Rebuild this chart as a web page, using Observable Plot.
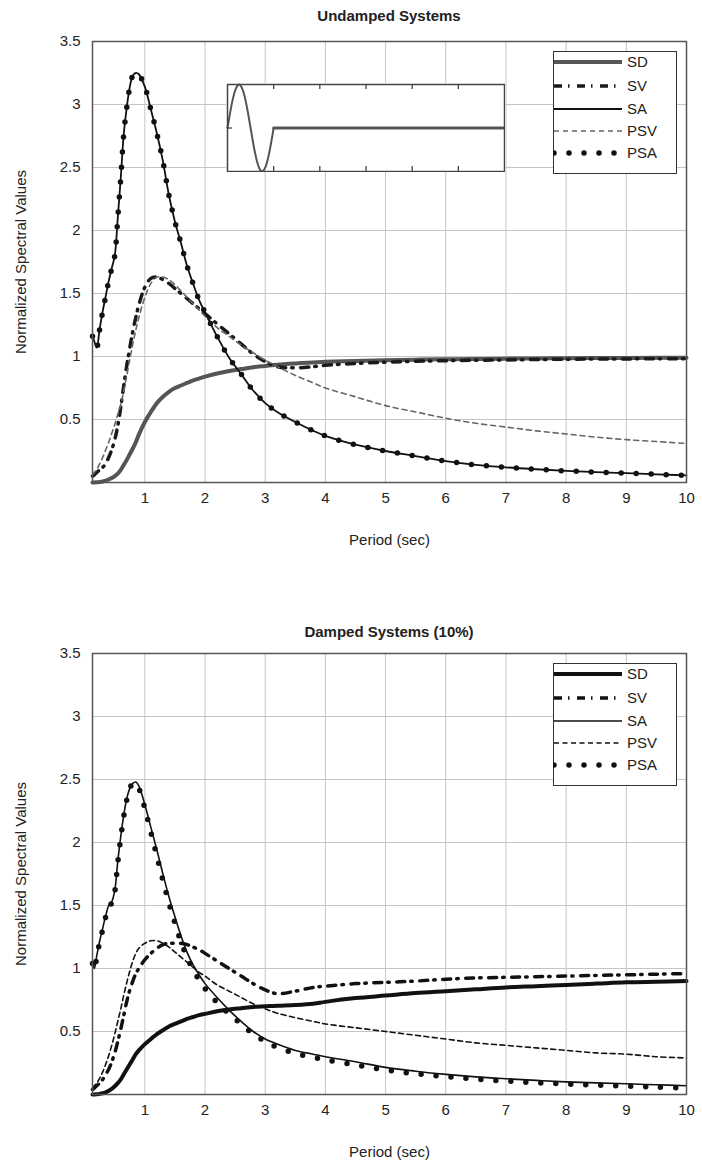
<!DOCTYPE html>
<html>
<head>
<meta charset="utf-8">
<script src="https://cdn.jsdelivr.net/npm/d3@7"></script>
<script src="https://cdn.jsdelivr.net/npm/@observablehq/plot@0.6"></script>
<style>
  body { margin: 0; background: #fff; }
  #root { position: relative; width: 702px; height: 1164px; background: #fff; font-family: "Liberation Sans", Arial, sans-serif; }
  .title { position: absolute; left: 92px; width: 594px; text-align: center; font-size: 15px; font-weight: bold; color: #222; line-height: 18px; }
  .abs { position: absolute; }
</style>
</head>
<body>
<div id="root"></div>
<script>
// ---------- data ----------
const seriesNames = ["SD", "SV", "SA", "PSV", "PSA"];
const panelTitles = ["Undamped Systems", "Damped Systems (10%)"];
const xTicks = [1, 2, 3, 4, 5, 6, 7, 8, 9, 10];
const xGrid = [1, 2, 3, 4, 5, 6, 7, 8, 9];
const yTicks = [0.5, 1, 1.5, 2, 2.5, 3, 3.5];
const yGrid = [0.5, 1, 1.5, 2, 2.5, 3];

const periods = [0.13,0.16,0.2,0.25,0.3,0.35,0.4,0.45,0.5,0.55,0.6,0.65,0.7,0.75,0.8,0.85,0.9,
  1.0,1.1,1.2,1.3,1.4,1.5,1.6,1.7,1.8,1.9,2.0,2.2,2.4,2.6,2.8,3.0,3.2,3.5,3.8,4.0,4.5,
  5,5.5,6,6.5,7,7.5,8,8.5,9,9.5,10];

// Undamped
const undampedSD = [0,0,0.002,0.004,0.008,0.015,0.025,0.035,0.05,0.07,0.10,0.14,0.18,0.225,0.27,0.32,0.38,
  0.48,0.56,0.63,0.68,0.72,0.75,0.77,0.79,0.81,0.825,0.84,0.865,0.885,0.90,0.915,0.925,0.935,0.945,0.953,0.958,0.965,
  0.97,0.975,0.978,0.98,0.983,0.985,0.987,0.988,0.989,0.99,0.99];
const undampedSV = [0.05,0.06,0.08,0.1,0.12,0.15,0.2,0.26,0.34,0.45,0.6,0.77,0.93,1.07,1.2,1.31,1.41,
  1.55,1.62,1.63,1.61,1.58,1.54,1.50,1.46,1.42,1.38,1.34,1.26,1.18,1.10,1.02,0.96,0.92,0.91,0.92,0.93,0.945,
  0.955,0.962,0.967,0.97,0.973,0.976,0.978,0.98,0.981,0.982,0.983];
const undampedSA = [1.16,1.12,1.07,1.22,1.36,1.48,1.60,1.70,1.80,2.10,2.42,2.77,2.98,3.14,3.23,3.25,3.24,
  3.14,2.96,2.77,2.55,2.28,2.07,1.90,1.72,1.58,1.45,1.35,1.16,0.99,0.86,0.73,0.63,0.56,0.48,0.41,0.37,0.30,
  0.25,0.21,0.17,0.14,0.12,0.105,0.092,0.082,0.074,0.065,0.057];
const undampedPSV = [0.06,0.08,0.1,0.15,0.2,0.26,0.32,0.39,0.46,0.54,0.62,0.73,0.85,0.98,1.1,1.21,1.31,
  1.47,1.58,1.63,1.63,1.61,1.57,1.52,1.47,1.42,1.37,1.32,1.23,1.16,1.09,1.03,0.97,0.92,0.85,0.79,0.75,0.68,
  0.61,0.56,0.51,0.47,0.44,0.41,0.385,0.36,0.34,0.325,0.31];
const undampedPSA = [1.16,1.12,1.07,1.22,1.36,1.48,1.60,1.70,1.80,2.10,2.42,2.77,2.98,3.14,3.23,3.25,3.24,
  3.14,2.96,2.77,2.55,2.28,2.07,1.90,1.72,1.58,1.45,1.35,1.16,0.99,0.86,0.73,0.63,0.56,0.48,0.41,0.37,0.30,
  0.25,0.21,0.17,0.14,0.12,0.105,0.092,0.082,0.074,0.065,0.057];

// Damped (10%)
const dampedSD = [0,0,0.002,0.005,0.01,0.018,0.03,0.045,0.065,0.09,0.12,0.16,0.2,0.24,0.28,0.32,0.35,
  0.40,0.44,0.48,0.51,0.54,0.56,0.58,0.60,0.615,0.63,0.64,0.66,0.675,0.685,0.695,0.70,0.705,0.71,0.72,0.735,0.765,
  0.785,0.805,0.82,0.835,0.85,0.86,0.87,0.88,0.89,0.895,0.90];
const dampedSV = [0.04,0.05,0.07,0.09,0.12,0.16,0.2,0.26,0.33,0.42,0.52,0.63,0.74,0.83,0.9,0.96,1.0,
  1.07,1.12,1.16,1.19,1.2,1.2,1.2,1.19,1.17,1.15,1.12,1.06,1.0,0.94,0.88,0.83,0.80,0.82,0.85,0.86,0.88,
  0.89,0.9,0.915,0.925,0.93,0.935,0.94,0.945,0.95,0.955,0.96];
const dampedSA = [1.05,1.0,1.1,1.22,1.32,1.42,1.5,1.53,1.62,1.85,2.05,2.22,2.35,2.43,2.47,2.48,2.45,
  2.3,2.12,1.94,1.75,1.57,1.41,1.26,1.13,1.03,0.95,0.88,0.77,0.67,0.58,0.5,0.44,0.40,0.35,0.32,0.30,0.26,
  0.215,0.185,0.16,0.14,0.125,0.112,0.1,0.092,0.085,0.077,0.07];
const dampedPSV = [0.05,0.07,0.09,0.13,0.18,0.24,0.31,0.39,0.48,0.58,0.68,0.79,0.89,0.98,1.06,1.12,1.16,
  1.2,1.22,1.22,1.2,1.17,1.13,1.09,1.05,1.01,0.97,0.94,0.87,0.82,0.77,0.72,0.68,0.645,0.61,0.58,0.56,0.53,
  0.50,0.47,0.44,0.41,0.39,0.37,0.35,0.33,0.32,0.30,0.29];
const dampedPSA = [1.04,0.99,1.09,1.21,1.31,1.41,1.49,1.52,1.61,1.84,2.04,2.21,2.34,2.43,2.47,2.47,2.43,
  2.27,2.08,1.89,1.70,1.52,1.36,1.21,1.09,0.99,0.91,0.84,0.73,0.64,0.56,0.48,0.42,0.375,0.325,0.295,0.275,0.235,
  0.195,0.165,0.142,0.122,0.107,0.094,0.083,0.074,0.066,0.058,0.052];

// Inset: one-cycle sine pulse (time, normalized amplitude)
const insetTime = [0,0.05,0.1,0.15,0.2,0.25,0.3,0.35,0.4,0.45,0.5,0.55,0.6,0.65,0.7,0.75,0.8,0.85,0.9,0.95,1];
const insetValue = [0,0.31,0.59,0.81,0.95,1,0.95,0.81,0.59,0.31,0,-0.31,-0.59,-0.81,-0.95,-1,-0.95,-0.81,-0.59,-0.31,0];
const insetFlatTime = [1, 6];
const insetFlatValue = [0, 0];
const insetTicks = [1, 2, 3, 4, 5];

// ---------- styles ----------
const stylesTop = {
  SD:  {stroke: "#555", strokeWidth: 4},
  SV:  {stroke: "#1a1a1a", strokeWidth: 3.5, strokeDasharray: "8,6,1.5,7.5"},
  SA:  {stroke: "#111", strokeWidth: 1.8},
  PSV: {stroke: "#666", strokeWidth: 1.6, strokeDasharray: "5,4"},
  PSA: {stroke: "#111", strokeWidth: 5.5, strokeDasharray: "0,15", strokeLinecap: "round"}
};
const stylesBottom = {
  SD:  {stroke: "#111", strokeWidth: 4},
  SV:  {stroke: "#111", strokeWidth: 3.5, strokeDasharray: "8,6,1.5,7.5"},
  SA:  {stroke: "#111", strokeWidth: 1.6},
  PSV: {stroke: "#111", strokeWidth: 1.6, strokeDasharray: "5,3.5"},
  PSA: {stroke: "#111", strokeWidth: 5.5, strokeDasharray: "0,15", strokeLinecap: "round"}
};

const root = document.getElementById("root");

function rows(values) { return periods.map((t, i) => ({t, v: values[i]})); }

function makePanel({top, height, title, titleTop, series, styles, inset}) {
  const wrap = document.createElement("div");
  wrap.className = "abs";
  wrap.style.left = "0px";
  wrap.style.top = top + "px";
  root.appendChild(wrap);

  const order = ["SD", "SV", "PSV", "SA", "PSA"];
  const chart = Plot.plot({
    width: 702,
    height,
    marginLeft: 92,
    marginRight: 16,
    marginTop: 41,
    marginBottom: height - 482,
    x: {domain: [0.13, 10]},
    y: {domain: [0, 3.5]},
    style: {fontFamily: "'Liberation Sans', Arial, sans-serif", fontSize: "15px", color: "#222", background: "transparent"},
    marks: [
      Plot.gridX(xGrid, {stroke: "#c4c4c4", strokeOpacity: 1, strokeWidth: 1}),
      Plot.gridY(yGrid, {stroke: "#c4c4c4", strokeOpacity: 1, strokeWidth: 1}),
      Plot.axisX(xTicks, {tickSize: 0, tickPadding: 10, label: "Period (sec)", labelAnchor: "center", labelArrow: "none", labelOffset: 62}),
      Plot.axisY(yTicks, {tickSize: 0, tickPadding: 12, tickFormat: d => String(d), label: "Normalized Spectral Values", labelAnchor: "center", labelArrow: "none", labelOffset: 77}),
      ...order.map(k => Plot.line(rows(series[k]), {x: "t", y: "v", curve: "catmull-rom", ...styles[k]})),
      Plot.frame({stroke: "#555", strokeWidth: 1.5})
    ]
  });
  wrap.appendChild(chart);

  const t = document.createElement("div");
  t.className = "title";
  t.style.top = (top + titleTop) + "px";
  t.textContent = title;
  root.appendChild(t);

  // legend
  const lg = document.createElement("div");
  lg.className = "abs";
  lg.style.left = "553px";
  lg.style.top = (top + 51) + "px";
  root.appendChild(lg);
  const svg = d3.select(lg).append("svg").attr("width", 124).attr("height", 123);
  svg.append("rect").attr("x", 0.5).attr("y", 0.5).attr("width", 123).attr("height", 122)
    .attr("fill", "#fff").attr("stroke", "#333").attr("stroke-width", 1);
  const rowY = [11, 35, 58, 80, 102];
  seriesNames.forEach((name, i) => {
    const s = styles[name];
    svg.append("line").attr("x1", 1).attr("x2", 69).attr("y1", rowY[i]).attr("y2", rowY[i])
      .attr("stroke", s.stroke).attr("stroke-width", s.strokeWidth)
      .attr("stroke-dasharray", s.strokeDasharray || null)
      .attr("stroke-linecap", s.strokeLinecap || "butt");
    svg.append("text").attr("x", 74).attr("y", rowY[i]).attr("dy", "0.36em")
      .attr("font-family", "'Liberation Sans', Arial, sans-serif").attr("font-size", 15).attr("fill", "#222")
      .text(name);
  });

  if (inset) {
    const iw = document.createElement("div");
    iw.className = "abs";
    iw.style.left = "226px";
    iw.style.top = (top + 83) + "px";
    iw.style.background = "#fff";
    root.appendChild(iw);
    const ins = Plot.plot({
      width: 279, height: 89,
      margin: 1,
      x: {domain: [0, 6], axis: null},
      y: {domain: [-1, 1], axis: null},
      style: {background: "#fff"},
      marks: [
        Plot.tickX(insetTicks, {x: d => d, insetTop: 82, stroke: "#333", strokeWidth: 1.2}),
        Plot.tickX(insetTicks, {x: d => d, insetBottom: 82, stroke: "#333", strokeWidth: 1.2}),
        Plot.tickY([0], {y: d => d, insetRight: 272, stroke: "#333", strokeWidth: 1.2}),
        Plot.line(insetTime.map((x, i) => ({x, y: insetValue[i]})), {x: "x", y: "y", curve: "monotone-x", stroke: "#555", strokeWidth: 2}),
        Plot.line(insetFlatTime.map((x, i) => ({x, y: insetFlatValue[i]})), {x: "x", y: "y", stroke: "#555", strokeWidth: 3}),
        Plot.frame({stroke: "#444", strokeWidth: 1.5})
      ]
    });
    iw.appendChild(ins);
  }
}

makePanel({
  top: 0, height: 612, title: panelTitles[0], titleTop: 7, styles: stylesTop, inset: true,
  series: {SD: undampedSD, SV: undampedSV, SA: undampedSA, PSV: undampedPSV, PSA: undampedPSA}
});
makePanel({
  top: 612, height: 552, title: panelTitles[1], titleTop: 11, styles: stylesBottom, inset: false,
  series: {SD: dampedSD, SV: dampedSV, SA: dampedSA, PSV: dampedPSV, PSA: dampedPSA}
});
</script>
</body>
</html>
